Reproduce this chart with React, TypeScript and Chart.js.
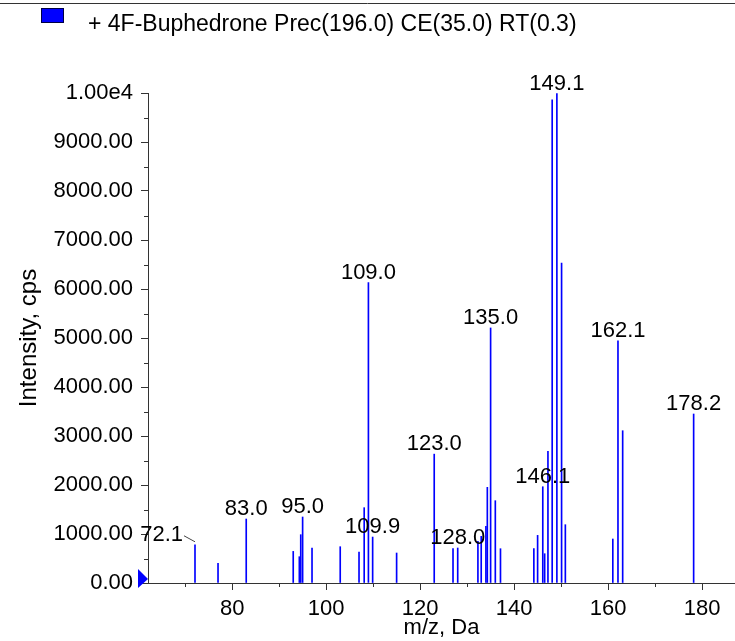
import React, { useEffect, useRef } from 'react';
import { Chart, registerables } from 'chart.js';

Chart.register(...registerables);

const LEGEND_TEXT = '+ 4F-Buphedrone Prec(196.0) CE(35.0) RT(0.3)';
const X_TITLE = 'm/z, Da';
const Y_TITLE = 'Intensity, cps';

const PEAK_MZ = [
  72.1, 77.0, 83.0, 93.0, 94.3, 94.6, 95.0, 97.0, 103.0, 107.0, 108.1, 109.0,
  109.9, 115.0, 123.0, 127.0, 128.0, 132.3, 133.0, 134.0, 134.3, 135.0, 136.0,
  137.1, 144.2, 145.0, 146.1, 146.5, 147.2, 148.1, 149.1, 150.1, 150.9, 161.0,
  162.1, 163.1, 178.2,
];
const PEAK_INTENSITY = [
  780, 400, 1306, 645, 537, 986, 1347, 714, 741, 632, 1537, 6130,
  938, 612, 2630, 700, 714, 850, 952, 1156, 1952, 5205, 1680,
  700, 700, 972, 1965, 598, 2686, 9863, 9986, 6531, 1190, 898,
  4940, 3108, 3449,
];
const LABELED_MZ = [72.1, 83.0, 95.0, 109.0, 109.9, 123.0, 128.0, 135.0, 146.1, 149.1, 162.1, 178.2];

const X_MAJOR_TICKS = [80, 100, 120, 140, 160, 180];
const X_MINOR_TICKS = [70, 90, 110, 130, 150, 170];
const Y_MAJOR_TICKS = [0, 1000, 2000, 3000, 4000, 5000, 6000, 7000, 8000, 9000, 10000];
const Y_MINOR_TICKS = [500, 1500, 2500, 3500, 4500, 5500, 6500, 7500, 8500, 9500];
const X_MIN = 62.1;
const X_MAX = 187;
const Y_MIN = 0;
const Y_MAX = 10000;

const FONT = '"Liberation Sans", Arial, Helvetica, sans-serif';
const AXIS_COLOR = '#333333';
const PEAK_COLOR = '#0000ff';

const decorPlugin = {
  id: 'decor',
  afterDraw(chart: any) {
    const ctx = chart.ctx;
    const xs = chart.scales.x;
    const ys = chart.scales.y;
    const { left, bottom } = chart.chartArea;
    ctx.save();

    // top rule
    ctx.strokeStyle = AXIS_COLOR;
    ctx.lineWidth = 1;
    ctx.beginPath();
    ctx.moveTo(0, 3.5);
    ctx.lineTo(chart.width, 3.5);
    ctx.stroke();

    // legend
    ctx.fillStyle = PEAK_COLOR;
    ctx.fillRect(41, 8, 23, 15);
    ctx.strokeStyle = '#000044';
    ctx.strokeRect(41.5, 8.5, 22, 14);
    ctx.fillStyle = '#000';
    ctx.font = `23px ${FONT}`;
    ctx.textAlign = 'left';
    ctx.textBaseline = 'alphabetic';
    ctx.fillText(LEGEND_TEXT, 88, 31);

    // minor ticks
    ctx.strokeStyle = AXIS_COLOR;
    ctx.lineWidth = 1;
    ctx.beginPath();
    for (const v of Y_MINOR_TICKS) {
      const y = Math.round(ys.getPixelForValue(v)) + 0.5;
      ctx.moveTo(left - 4, y);
      ctx.lineTo(left, y);
    }
    for (const v of X_MINOR_TICKS) {
      const x = Math.round(xs.getPixelForValue(v)) + 0.5;
      ctx.moveTo(x, bottom);
      ctx.lineTo(x, bottom + 4);
    }
    ctx.stroke();

    // precursor marker
    const y0 = ys.getPixelForValue(0);
    ctx.fillStyle = PEAK_COLOR;
    ctx.beginPath();
    ctx.moveTo(left, y0 - 4);
    ctx.lineTo(left - 10, y0 - 14);
    ctx.lineTo(left - 10, y0 + 5);
    ctx.closePath();
    ctx.fill();

    // peak labels
    ctx.fillStyle = '#000';
    ctx.font = `22px ${FONT}`;
    ctx.textBaseline = 'alphabetic';
    LABELED_MZ.forEach((mz, k) => {
      const i = PEAK_MZ.indexOf(mz);
      if (i < 0) return;
      const px = xs.getPixelForValue(mz);
      const py = ys.getPixelForValue(PEAK_INTENSITY[i]);
      const text = mz.toFixed(1);
      if (k === 0) {
        ctx.textAlign = 'right';
        ctx.fillText(text, px - 12, py - 4);
        ctx.strokeStyle = '#444';
        ctx.lineWidth = 1;
        ctx.beginPath();
        ctx.moveTo(px - 11, py - 9);
        ctx.lineTo(px, py - 3);
        ctx.stroke();
      } else {
        ctx.textAlign = 'center';
        ctx.fillText(text, px, py - 4);
      }
    });

    ctx.restore();
  },
};

export default function App() {
  const canvasRef = useRef<HTMLCanvasElement | null>(null);

  useEffect(() => {
    if (!canvasRef.current) return;
    Chart.defaults.font.family = FONT;
    const chart = new Chart(canvasRef.current, {
      type: 'bar',
      data: {
        datasets: [
          {
            label: LEGEND_TEXT,
            data: PEAK_MZ.map((x, i) => ({ x, y: PEAK_INTENSITY[i] })),
            backgroundColor: PEAK_COLOR,
            borderWidth: 0,
            barThickness: 1,
          },
        ],
      },
      options: {
        animation: false,
        responsive: true,
        maintainAspectRatio: false,
        layout: { padding: { top: 93, left: 0, right: 0, bottom: 0 } },
        plugins: {
          legend: { display: false },
          tooltip: { enabled: false },
        },
        scales: {
          x: {
            type: 'linear',
            min: X_MIN,
            max: X_MAX,
            offset: false,
            afterBuildTicks: (scale: any) => {
              scale.ticks = X_MAJOR_TICKS.map((value) => ({ value }));
            },
            afterFit: (scale: any) => {
              scale.height = 58;
            },
            ticks: {
              color: '#000',
              font: { size: 22 },
              padding: 6,
              maxRotation: 0,
              autoSkip: false,
              callback: (v: any) => String(v),
            },
            grid: {
              drawOnChartArea: false,
              drawTicks: true,
              tickLength: 7,
              color: AXIS_COLOR,
              offset: false,
            },
            border: { display: true, color: AXIS_COLOR, width: 1 },
            title: {
              display: true,
              text: X_TITLE,
              color: '#000',
              font: { size: 22 },
              padding: { top: 0, bottom: 0 },
            },
          },
          y: {
            type: 'linear',
            min: Y_MIN,
            max: Y_MAX,
            afterBuildTicks: (scale: any) => {
              scale.ticks = Y_MAJOR_TICKS.map((value) => ({ value }));
            },
            afterFit: (scale: any) => {
              scale.width = 148;
            },
            ticks: {
              color: '#000',
              font: { size: 22 },
              padding: 8,
              autoSkip: false,
              callback: (v: any) => (Number(v) === 10000 ? '1.00e4' : Number(v).toFixed(2)),
            },
            grid: {
              drawOnChartArea: false,
              drawTicks: true,
              tickLength: 7,
              color: AXIS_COLOR,
            },
            border: { display: true, color: AXIS_COLOR, width: 1 },
            title: {
              display: true,
              text: Y_TITLE,
              color: '#000',
              font: { size: 24 },
              padding: { top: 15, bottom: 0 },
            },
          },
        },
      },
      plugins: [decorPlugin],
    });
    return () => chart.destroy();
  }, []);

  return (
    <div style={{ position: 'absolute', left: 0, top: 0, width: 735, height: 641, background: '#fff' }}>
      <canvas ref={canvasRef} />
    </div>
  );
}
